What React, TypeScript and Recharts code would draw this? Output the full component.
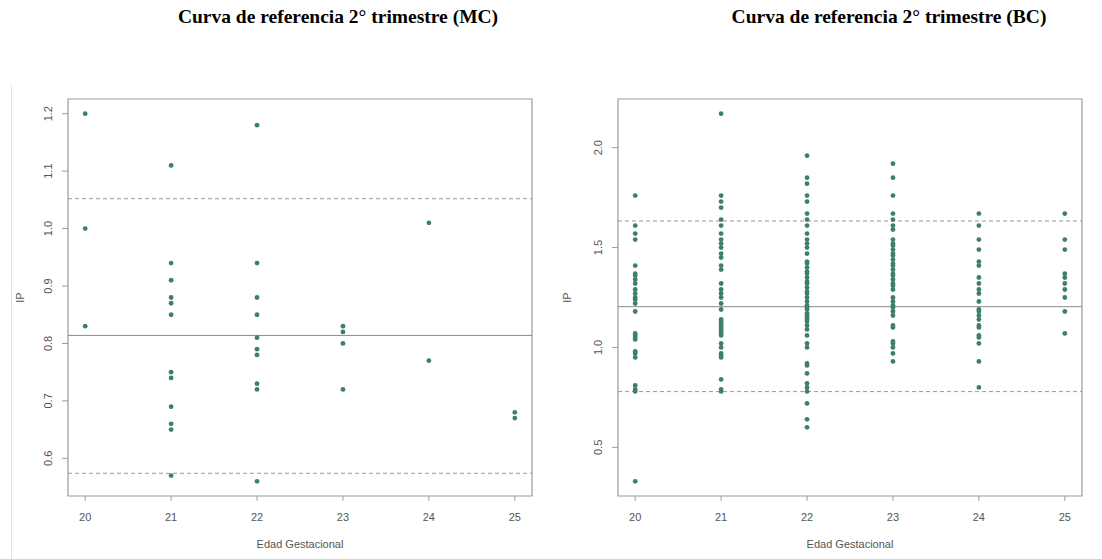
import React from "react"
import { ScatterChart, Scatter, XAxis, YAxis, ReferenceLine, ReferenceArea, Label } from "recharts"

// Edad gestacional (semanas)
const weeks = [20, 21, 22, 23, 24, 25]

// IP - curva MC
const mc20 = [1.2, 1.0, 0.83]
const mc21 = [1.11, 0.94, 0.91, 0.88, 0.87, 0.85, 0.75, 0.74, 0.69, 0.66, 0.65, 0.57]
const mc22 = [1.18, 0.94, 0.88, 0.85, 0.81, 0.79, 0.78, 0.73, 0.72, 0.56]
const mc23 = [0.83, 0.82, 0.8, 0.72]
const mc24 = [1.01, 0.77]
const mc25 = [0.68, 0.67]

// IP - curva BC
const bc20 = [1.76, 1.61, 1.57, 1.54, 1.41, 1.37, 1.36, 1.34, 1.32, 1.29, 1.27, 1.25, 1.24, 1.22, 1.18, 1.07, 1.06, 1.05, 1.04, 0.98, 0.97, 0.95, 0.81, 0.79, 0.78, 0.33]
const bc21 = [2.17, 1.76, 1.73, 1.7, 1.64, 1.61, 1.57, 1.54, 1.52, 1.5, 1.47, 1.45, 1.41, 1.39, 1.32, 1.29, 1.27, 1.25, 1.22, 1.19, 1.14, 1.13, 1.12, 1.11, 1.1, 1.09, 1.08, 1.07, 1.06, 1.02, 1.0, 0.97, 0.96, 0.95, 0.84, 0.79, 0.78]
const bc22 = [1.96, 1.85, 1.82, 1.76, 1.73, 1.67, 1.64, 1.61, 1.57, 1.54, 1.52, 1.5, 1.47, 1.43, 1.42, 1.4, 1.38, 1.37, 1.35, 1.33, 1.32, 1.3, 1.28, 1.27, 1.25, 1.23, 1.21, 1.2, 1.19, 1.17, 1.16, 1.15, 1.14, 1.13, 1.11, 1.09, 1.06, 1.02, 1.0, 0.92, 0.91, 0.87, 0.82, 0.8, 0.78, 0.72, 0.64, 0.6]
const bc23 = [1.92, 1.85, 1.76, 1.67, 1.64, 1.61, 1.59, 1.54, 1.52, 1.51, 1.49, 1.47, 1.46, 1.44, 1.42, 1.41, 1.39, 1.37, 1.36, 1.34, 1.32, 1.31, 1.29, 1.25, 1.23, 1.21, 1.2, 1.18, 1.16, 1.11, 1.1, 1.03, 1.02, 1.0, 0.97, 0.93]
const bc24 = [1.67, 1.61, 1.54, 1.49, 1.43, 1.41, 1.35, 1.32, 1.29, 1.27, 1.23, 1.19, 1.18, 1.16, 1.14, 1.11, 1.1, 1.06, 1.05, 1.02, 0.93, 0.8]
const bc25 = [1.67, 1.54, 1.49, 1.37, 1.35, 1.32, 1.29, 1.25, 1.18, 1.07]

// lineas de referencia: [inferior, media, superior]
const mcRefs = [0.574, 0.814, 1.052]
const bcRefs = [0.779, 1.204, 1.633]

const mcTicks = [0.6, 0.7, 0.8, 0.9, 1.0, 1.1, 1.2]
const bcTicks = [0.5, 1.0, 1.5, 2.0]

const toPoints = (cols: number[][]) =>
  cols.flatMap((vals, i) => vals.map((v) => ({ x: weeks[i], y: v })))

const mcData = toPoints([mc20, mc21, mc22, mc23, mc24, mc25])
const bcData = toPoints([bc20, bc21, bc22, bc23, bc24, bc25])

const GREEN = "#3d8068"
const GREY = "#555"
const BOX = "#9c9c9c"

const Dot = (props: any) => <circle cx={props.cx} cy={props.cy} r={2.4} fill={GREEN} />

const XTick = ({ x, y, payload }: any) => (
  <text x={x} y={y + 17.5} textAnchor="middle" fill={GREY} fontSize={11} fontFamily="Liberation Sans, Arial, sans-serif">
    {payload.value}
  </text>
)

const YTick = ({ x, y, payload }: any) => (
  <text
    x={x - 12}
    y={y}
    dy="0.35em"
    transform={`rotate(-90 ${x - 12} ${y})`}
    textAnchor="middle"
    fill={GREY}
    fontSize={11}
    fontFamily="Liberation Sans, Arial, sans-serif"
  >
    {Number(payload.value).toFixed(1)}
  </text>
)

function yDomain(all: number[]): [number, number] {
  const lo = Math.min(...all)
  const hi = Math.max(...all)
  const pad = (hi - lo) * 0.04
  return [lo - pad, hi + pad]
}

function Panel({ data, ticks, refs, left, ipX }: { data: { x: number; y: number }[]; ticks: number[]; refs: number[]; left: number; ipX: number }) {
  const dom = yDomain(data.map((d) => d.y))
  return (
    <div style={{ position: "absolute", left, top: 0 }}>
      <ScatterChart width={550} height={559} margin={{ top: 99, right: 18, bottom: 0, left: 0 }}>
        <XAxis
          type="number"
          dataKey="x"
          domain={[19.8, 25.2]}
          ticks={weeks}
          allowDataOverflow
          height={63}
          axisLine={false}
          tickSize={5}
          tickLine={{ stroke: BOX }}
          tick={<XTick />}
        >
          <Label
            content={({ viewBox }: any) => (
              <text x={viewBox.x + viewBox.width / 2} y={548} textAnchor="middle" fill={GREY} fontSize={11} fontFamily="Liberation Sans, Arial, sans-serif">
                Edad Gestacional
              </text>
            )}
          />
        </XAxis>
        <YAxis
          type="number"
          dataKey="y"
          domain={dom}
          ticks={ticks}
          allowDataOverflow
          width={68}
          axisLine={false}
          tickSize={6}
          tickLine={{ stroke: BOX }}
          tick={<YTick />}
        >
          <Label
            content={({ viewBox }: any) => (
              <text
                x={ipX}
                y={viewBox.y + viewBox.height / 2}
                dy="0.35em"
                transform={`rotate(-90 ${ipX} ${viewBox.y + viewBox.height / 2})`}
                textAnchor="middle"
                fill={GREY}
                fontSize={11}
                fontFamily="Liberation Sans, Arial, sans-serif"
              >
                IP
              </text>
            )}
          />
        </YAxis>
        <ReferenceArea x1={19.8} x2={25.2} y1={dom[0]} y2={dom[1]} fill="none" stroke={BOX} strokeWidth={1.2} ifOverflow="visible" />
        <ReferenceLine y={refs[2]} stroke="#999" strokeDasharray="4 3" />
        <ReferenceLine y={refs[1]} stroke="#8a8a8a" />
        <ReferenceLine y={refs[0]} stroke="#999" strokeDasharray="4 3" />
        <Scatter data={data} shape={<Dot />} isAnimationActive={false} />
      </ScatterChart>
    </div>
  )
}

const titleStyle: React.CSSProperties = {
  position: "absolute",
  top: 6,
  width: 550,
  textAlign: "center",
  fontFamily: "Liberation Serif, 'Times New Roman', serif",
  fontWeight: "bold",
  fontSize: 19.5,
  lineHeight: "22px",
  color: "#000",
}

export default function App() {
  return (
    <div style={{ position: "absolute", left: 0, top: 0, width: 1102, height: 559, background: "#fff", overflow: "hidden" }}>
      <div style={{ ...titleStyle, left: 63 }}>Curva de referencia 2° trimestre (MC)</div>
      <div style={{ ...titleStyle, left: 614 }}>Curva de referencia 2° trimestre (BC)</div>
      <div style={{ position: "absolute", left: 11, top: 85, width: 1, height: 474, background: "#e2e2e2" }} />
      <Panel data={mcData} ticks={mcTicks} refs={mcRefs} left={0} ipX={20} />
      <Panel data={bcData} ticks={bcTicks} refs={bcRefs} left={550} ipX={17} />
    </div>
  )
}
